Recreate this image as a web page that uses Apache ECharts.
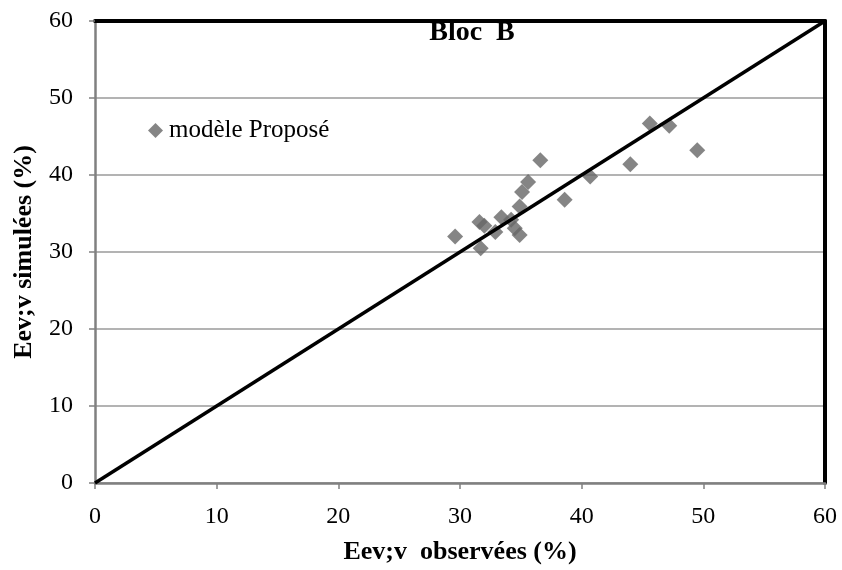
<!DOCTYPE html>
<html>
<head>
<meta charset="utf-8">
<script src="https://cdn.jsdelivr.net/npm/echarts@6/dist/echarts.min.js"></script>
<style>html,body{margin:0;padding:0;background:#fff}#c{width:842px;height:570px}</style>
</head>
<body>
<div id="c"></div>
<script>
// Observed vs simulated values (%)
const observed  = [29.6, 31.6, 32.0, 32.9, 31.7, 33.4, 34.2, 34.5, 34.9, 34.9, 35.1, 35.6, 36.6, 38.6, 40.7, 44.0, 45.6, 47.2, 49.5];
const simulated = [32.0, 33.9, 33.4, 32.6, 30.5, 34.5, 34.2, 33.1, 32.2, 35.9, 37.8, 39.1, 41.9, 36.8, 39.8, 41.4, 46.7, 46.4, 43.2];
// 1:1 reference line
const identityLine = [[0, 0], [60, 60]];
const axisTicks = [0, 10, 20, 30, 40, 50, 60];

const font = '"Liberation Serif", "Times New Roman", serif';
const points = observed.map((v, i) => [v, simulated[i]]);

const chart = echarts.init(document.getElementById('c'));
chart.setOption({
  backgroundColor: '#fff',
  animation: false,
  title: {
    text: 'Bloc  B', left: 467, top: 14, textAlign: 'center',
    textStyle: { fontFamily: font, fontSize: 28, fontWeight: 'bold', color: '#000' }
  },
  legend: {
    data: ['modèle Proposé'], left: 143, top: 113, itemWidth: 15, itemHeight: 15, itemGap: 4,
    textStyle: { fontFamily: font, fontSize: 25, color: '#000', padding: [0, 0, 0, 1] }
  },
  grid: { left: 95, right: 17, top: 21, bottom: 87, containLabel: false },
  xAxis: [{
    type: 'value', min: 0, max: 60, interval: 10,
    name: 'Eev;v  observées (%)', nameLocation: 'middle', nameGap: 56,
    nameTextStyle: { fontFamily: font, fontSize: 26, fontWeight: 'bold', color: '#000' },
    axisLine: { show: true, onZero: false, lineStyle: { color: '#808080', width: 2.5 } },
    axisTick: { show: true, length: 6, lineStyle: { color: '#808080', width: 1.5 } },
    axisLabel: { fontFamily: font, fontSize: 24, color: '#000', margin: 22,
      formatter: v => axisTicks.includes(v) ? String(v) : '' },
    splitLine: { show: false }
  }, {
    type: 'value', min: 0, max: 60, position: 'top',
    axisLine: { show: true, onZero: false, lineStyle: { color: '#000', width: 4 } },
    axisTick: { show: false }, axisLabel: { show: false }, splitLine: { show: false }
  }],
  yAxis: [{
    type: 'value', min: 0, max: 60, interval: 10,
    name: 'Eev;v simulées (%)', nameLocation: 'middle', nameGap: 58,
    nameTextStyle: { fontFamily: font, fontSize: 26, fontWeight: 'bold', color: '#000' },
    axisLine: { show: true, onZero: false, lineStyle: { color: '#808080', width: 2.5 } },
    axisTick: { show: true, length: 6, lineStyle: { color: '#808080', width: 1.5 } },
    axisLabel: { fontFamily: font, fontSize: 24, color: '#000', margin: 22 },
    splitLine: { show: true, lineStyle: { color: '#9a9a9a', width: 1.5 } }
  }, {
    type: 'value', min: 0, max: 60, position: 'right',
    axisLine: { show: true, onZero: false, lineStyle: { color: '#000', width: 4 } },
    axisTick: { show: false }, axisLabel: { show: false }, splitLine: { show: false }
  }],
  series: [{
    name: 'modèle Proposé', type: 'scatter', symbol: 'diamond', symbolSize: 16,
    itemStyle: { color: '#666666' }, data: points, z: 3
  }, {
    name: 'line', type: 'line', data: identityLine, symbol: 'none',
    lineStyle: { color: '#000', width: 3.5 }, z: 4, silent: true
  }]
});
</script>
</body>
</html>
